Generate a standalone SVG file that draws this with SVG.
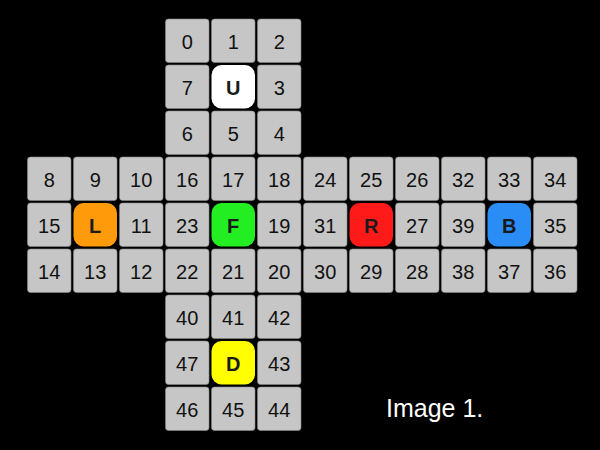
<svg xmlns="http://www.w3.org/2000/svg" width="600" height="450" viewBox="0 0 600 450">
<style>
.c{fill:#c6c6c6;stroke:#8a8a8a;stroke-width:0.6}
.t{font-family:"Liberation Sans",Arial,sans-serif;font-size:20px;fill:#111;text-anchor:middle}
.b{font-family:"Liberation Sans",Arial,sans-serif;font-size:20px;font-weight:bold;fill:#1a1a1a;text-anchor:middle}
</style>
<rect width="600" height="450" fill="#000"/>
<defs>
<rect id="cell" class="c" x="0" y="0" width="43.5" height="43.5" rx="3"/>
<rect id="ctr" x="0" y="0" width="43.5" height="43.5" rx="10"/>
</defs>
<g id="face-U">
<use href="#cell" x="165.5" y="19"/><text class="t" x="187.2" y="48.5">0</text>
<use href="#cell" x="211.5" y="19"/><text class="t" x="233.2" y="48.5">1</text>
<use href="#cell" x="257.5" y="19"/><text class="t" x="279.2" y="48.5">2</text>
<use href="#cell" x="165.5" y="65"/><text class="t" x="187.2" y="94.5">7</text>
<use href="#ctr" x="211.5" y="65" fill="#ffffff"/><text class="b" x="233.2" y="94.5">U</text>
<use href="#cell" x="257.5" y="65"/><text class="t" x="279.2" y="94.5">3</text>
<use href="#cell" x="165.5" y="111"/><text class="t" x="187.2" y="140.5">6</text>
<use href="#cell" x="211.5" y="111"/><text class="t" x="233.2" y="140.5">5</text>
<use href="#cell" x="257.5" y="111"/><text class="t" x="279.2" y="140.5">4</text>
</g>
<g id="face-L">
<use href="#cell" x="27.5" y="157"/><text class="t" x="49.2" y="186.5">8</text>
<use href="#cell" x="73.5" y="157"/><text class="t" x="95.2" y="186.5">9</text>
<use href="#cell" x="119.5" y="157"/><text class="t" x="141.2" y="186.5">10</text>
<use href="#cell" x="27.5" y="203"/><text class="t" x="49.2" y="232.5">15</text>
<use href="#ctr" x="73.5" y="203" fill="#ff9a0a"/><text class="b" x="95.2" y="232.5">L</text>
<use href="#cell" x="119.5" y="203"/><text class="t" x="141.2" y="232.5">11</text>
<use href="#cell" x="27.5" y="249"/><text class="t" x="49.2" y="278.5">14</text>
<use href="#cell" x="73.5" y="249"/><text class="t" x="95.2" y="278.5">13</text>
<use href="#cell" x="119.5" y="249"/><text class="t" x="141.2" y="278.5">12</text>
</g>
<g id="face-F">
<use href="#cell" x="165.5" y="157"/><text class="t" x="187.2" y="186.5">16</text>
<use href="#cell" x="211.5" y="157"/><text class="t" x="233.2" y="186.5">17</text>
<use href="#cell" x="257.5" y="157"/><text class="t" x="279.2" y="186.5">18</text>
<use href="#cell" x="165.5" y="203"/><text class="t" x="187.2" y="232.5">23</text>
<use href="#ctr" x="211.5" y="203" fill="#22ee22"/><text class="b" x="233.2" y="232.5">F</text>
<use href="#cell" x="257.5" y="203"/><text class="t" x="279.2" y="232.5">19</text>
<use href="#cell" x="165.5" y="249"/><text class="t" x="187.2" y="278.5">22</text>
<use href="#cell" x="211.5" y="249"/><text class="t" x="233.2" y="278.5">21</text>
<use href="#cell" x="257.5" y="249"/><text class="t" x="279.2" y="278.5">20</text>
</g>
<g id="face-R">
<use href="#cell" x="303.5" y="157"/><text class="t" x="325.2" y="186.5">24</text>
<use href="#cell" x="349.5" y="157"/><text class="t" x="371.2" y="186.5">25</text>
<use href="#cell" x="395.5" y="157"/><text class="t" x="417.2" y="186.5">26</text>
<use href="#cell" x="303.5" y="203"/><text class="t" x="325.2" y="232.5">31</text>
<use href="#ctr" x="349.5" y="203" fill="#ff1a1a"/><text class="b" x="371.2" y="232.5">R</text>
<use href="#cell" x="395.5" y="203"/><text class="t" x="417.2" y="232.5">27</text>
<use href="#cell" x="303.5" y="249"/><text class="t" x="325.2" y="278.5">30</text>
<use href="#cell" x="349.5" y="249"/><text class="t" x="371.2" y="278.5">29</text>
<use href="#cell" x="395.5" y="249"/><text class="t" x="417.2" y="278.5">28</text>
</g>
<g id="face-B">
<use href="#cell" x="441.5" y="157"/><text class="t" x="463.2" y="186.5">32</text>
<use href="#cell" x="487.5" y="157"/><text class="t" x="509.2" y="186.5">33</text>
<use href="#cell" x="533.5" y="157"/><text class="t" x="555.2" y="186.5">34</text>
<use href="#cell" x="441.5" y="203"/><text class="t" x="463.2" y="232.5">39</text>
<use href="#ctr" x="487.5" y="203" fill="#2a8cf5"/><text class="b" x="509.2" y="232.5">B</text>
<use href="#cell" x="533.5" y="203"/><text class="t" x="555.2" y="232.5">35</text>
<use href="#cell" x="441.5" y="249"/><text class="t" x="463.2" y="278.5">38</text>
<use href="#cell" x="487.5" y="249"/><text class="t" x="509.2" y="278.5">37</text>
<use href="#cell" x="533.5" y="249"/><text class="t" x="555.2" y="278.5">36</text>
</g>
<g id="face-D">
<use href="#cell" x="165.5" y="295"/><text class="t" x="187.2" y="324.5">40</text>
<use href="#cell" x="211.5" y="295"/><text class="t" x="233.2" y="324.5">41</text>
<use href="#cell" x="257.5" y="295"/><text class="t" x="279.2" y="324.5">42</text>
<use href="#cell" x="165.5" y="341"/><text class="t" x="187.2" y="370.5">47</text>
<use href="#ctr" x="211.5" y="341" fill="#ffff00"/><text class="b" x="233.2" y="370.5">D</text>
<use href="#cell" x="257.5" y="341"/><text class="t" x="279.2" y="370.5">43</text>
<use href="#cell" x="165.5" y="387"/><text class="t" x="187.2" y="416.5">46</text>
<use href="#cell" x="211.5" y="387"/><text class="t" x="233.2" y="416.5">45</text>
<use href="#cell" x="257.5" y="387"/><text class="t" x="279.2" y="416.5">44</text>
</g>
<g id="connectors"/>
<text x="386" y="417" font-family="'Liberation Sans',Arial,sans-serif" font-size="25" fill="#fff">Image 1.</text>
</svg>
